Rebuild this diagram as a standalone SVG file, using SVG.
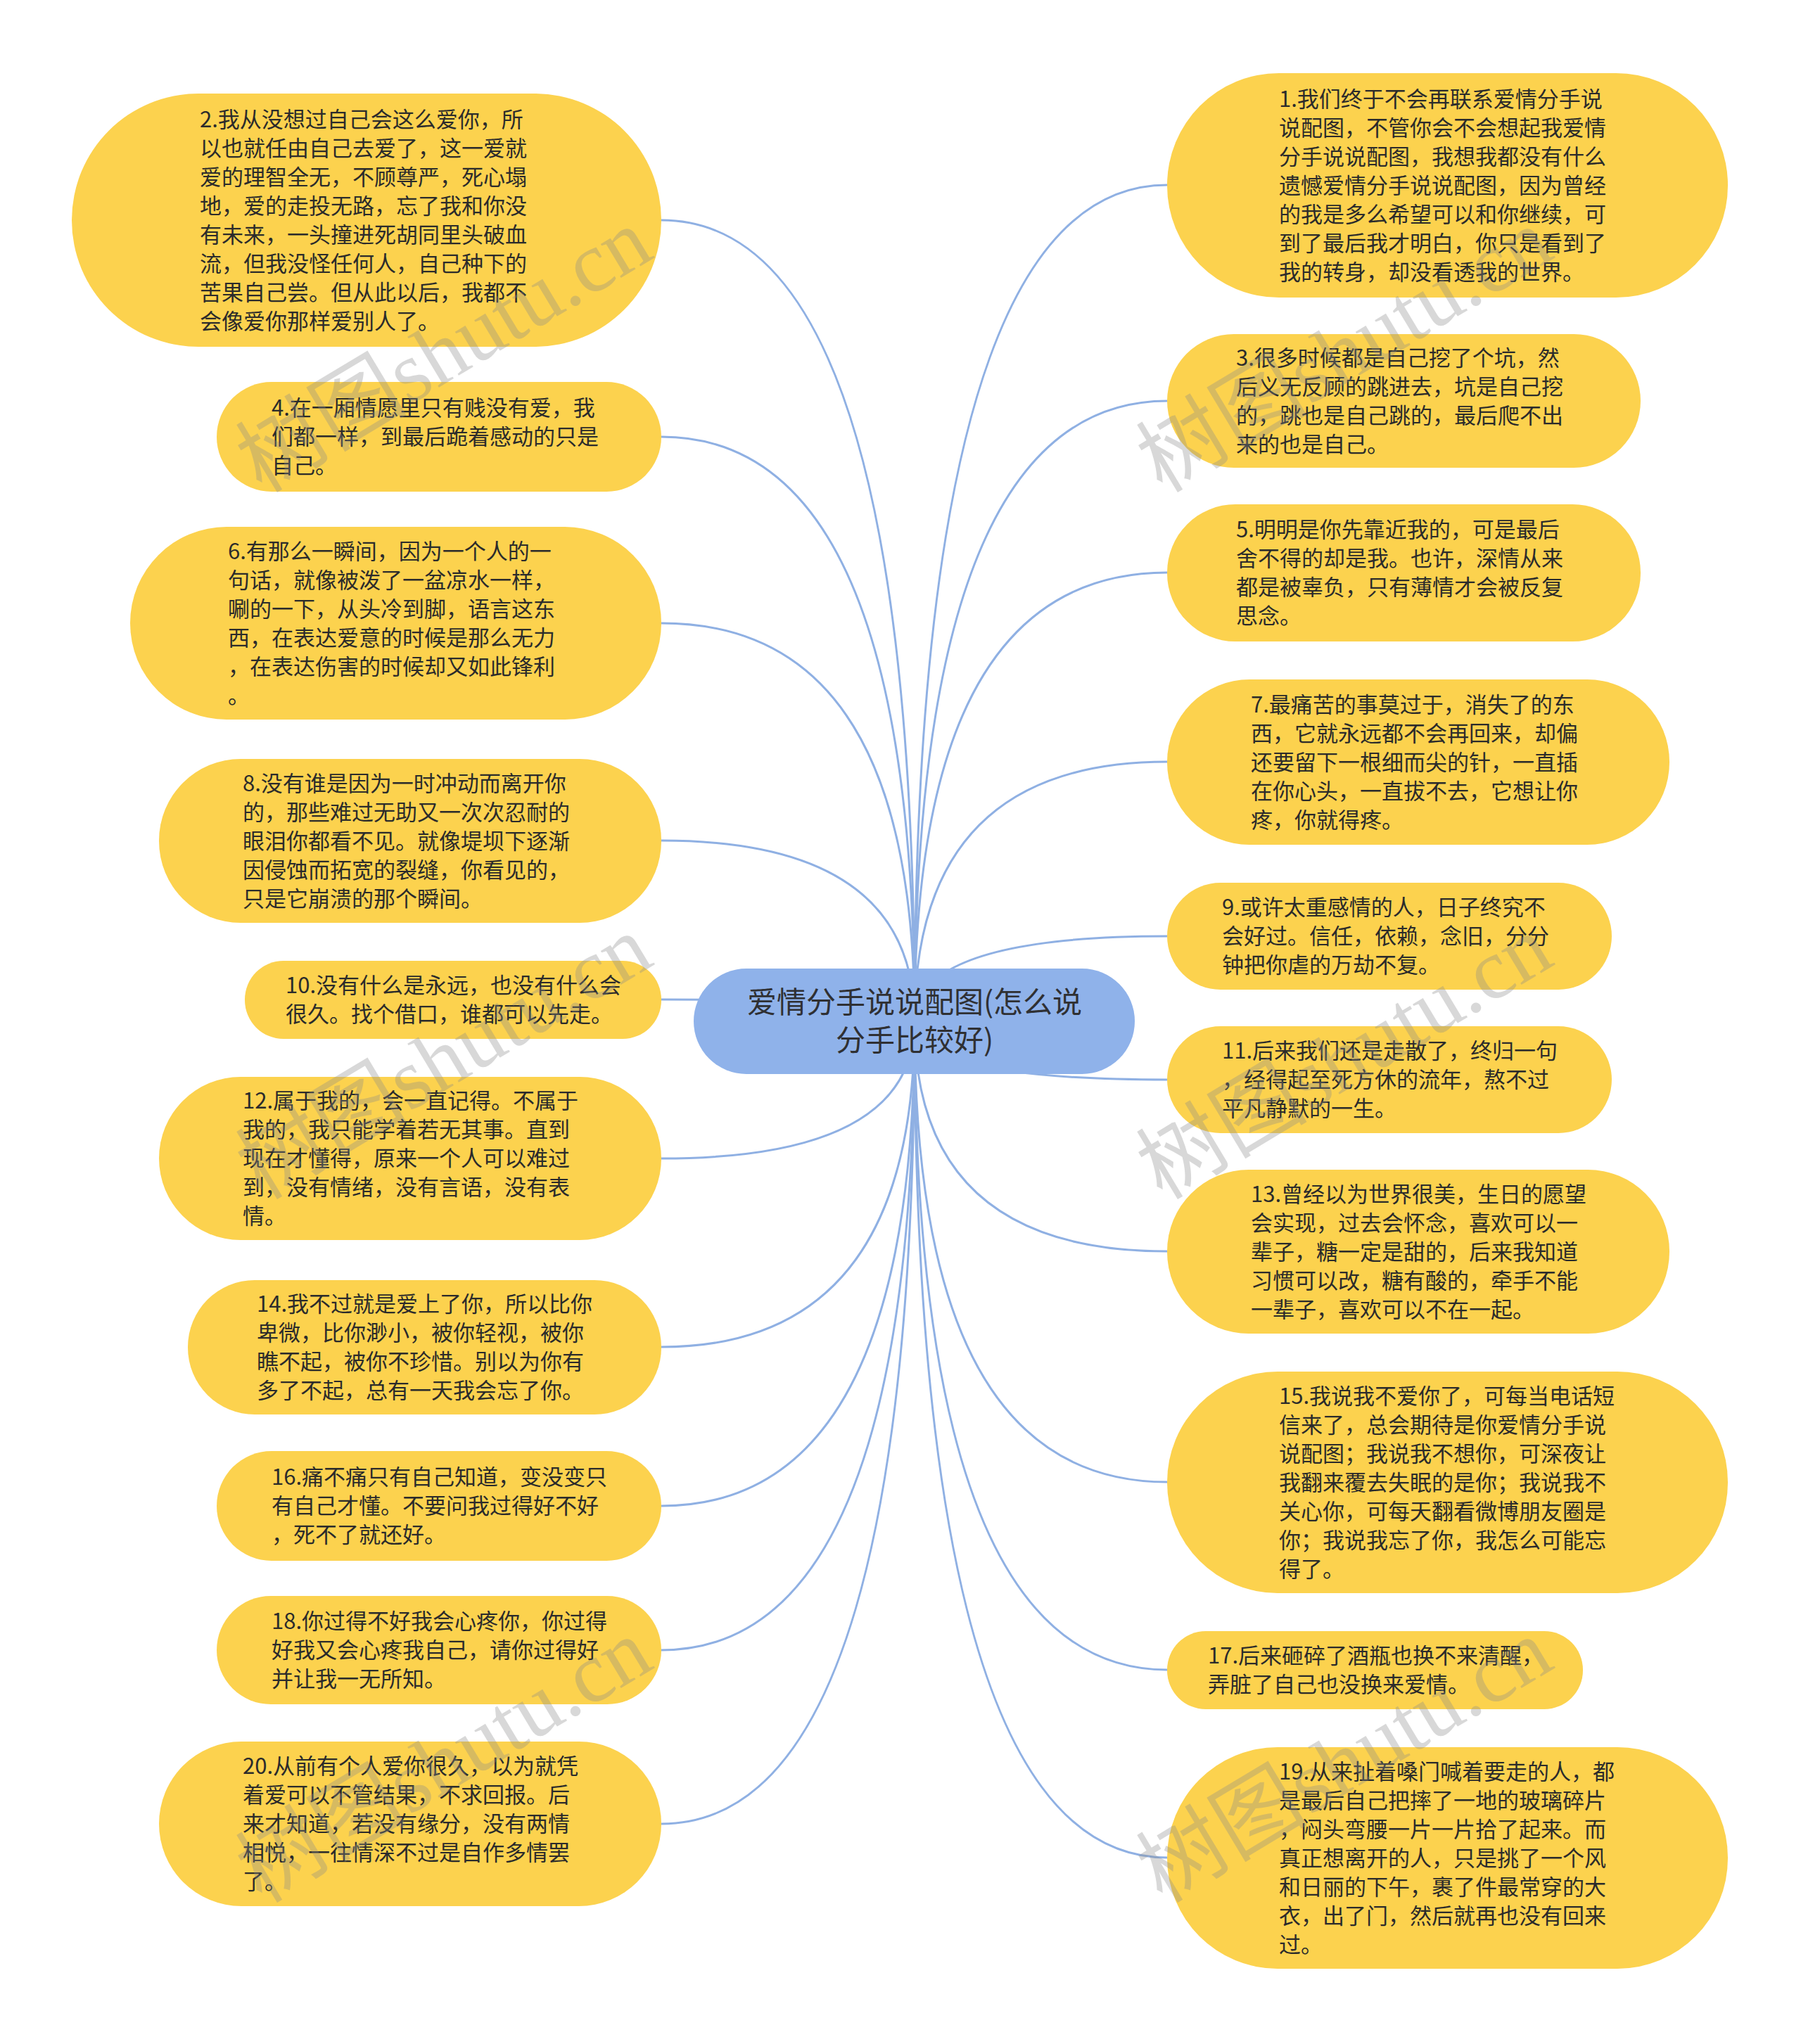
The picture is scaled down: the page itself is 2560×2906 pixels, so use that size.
<svg xmlns="http://www.w3.org/2000/svg" width="2560" height="2906" viewBox="0 0 2560 2906">
<style>
.leaf{fill:#fcd24e;}
.root{fill:#8fb2ea;}
.lt{font-family:"Noto Sans CJK SC","Noto Sans",sans-serif;font-size:31px;fill:#2b2b2b;}
.rt{font-family:"Noto Sans CJK SC","Noto Sans",sans-serif;font-size:42px;fill:#2f3033;text-anchor:middle;}
.ln{fill:none;stroke:#8fb0e3;stroke-width:3;}
.wm{font-family:"Liberation Serif","Noto Sans CJK SC",serif;font-size:122px;fill:#8a8a8a;opacity:0.33;}
</style>
<rect width="2560" height="2906" fill="#ffffff"/>
<g id="connectors">
<path class="ln" d="M940 313 Q1300 313 1300 1452"/>
<path class="ln" d="M940 621 Q1300 621 1300 1452"/>
<path class="ln" d="M940 886 Q1300 886 1300 1452"/>
<path class="ln" d="M940 1195 Q1300 1195 1300 1452"/>
<path class="ln" d="M940 1421 Q1300 1421 1300 1452"/>
<path class="ln" d="M940 1647 Q1300 1647 1300 1452"/>
<path class="ln" d="M940 1915 Q1300 1915 1300 1452"/>
<path class="ln" d="M940 2141 Q1300 2141 1300 1452"/>
<path class="ln" d="M940 2346 Q1300 2346 1300 1452"/>
<path class="ln" d="M940 2593 Q1300 2593 1300 1452"/>
<path class="ln" d="M1659 263 Q1300 263 1300 1452"/>
<path class="ln" d="M1659 570 Q1300 570 1300 1452"/>
<path class="ln" d="M1659 814 Q1300 814 1300 1452"/>
<path class="ln" d="M1659 1083 Q1300 1083 1300 1452"/>
<path class="ln" d="M1659 1331 Q1300 1331 1300 1452"/>
<path class="ln" d="M1659 1535 Q1300 1535 1300 1452"/>
<path class="ln" d="M1659 1779 Q1300 1779 1300 1452"/>
<path class="ln" d="M1659 2107 Q1300 2107 1300 1452"/>
<path class="ln" d="M1659 2374 Q1300 2374 1300 1452"/>
<path class="ln" d="M1659 2641 Q1300 2641 1300 1452"/>
</g>
<g id="root">
<rect class="root" x="986" y="1377" width="627" height="150" rx="75" ry="75"/>
<text class="rt" x="1300" y="1440">爱情分手说说配图(怎么说<tspan x="1300" dy="54">分手比较好)</tspan></text>
</g>
<g id="n2">
<rect class="leaf" x="102" y="133" width="838" height="360" rx="180" ry="180"/>
<text class="lt" x="284" y="180.5">2.我从没想过自己会这么爱你，所<tspan x="284" dy="41">以也就任由自己去爱了，这一爱就</tspan><tspan x="284" dy="41">爱的理智全无，不顾尊严，死心塌</tspan><tspan x="284" dy="41">地，爱的走投无路，忘了我和你没</tspan><tspan x="284" dy="41">有未来，一头撞进死胡同里头破血</tspan><tspan x="284" dy="41">流，但我没怪任何人，自己种下的</tspan><tspan x="284" dy="41">苦果自己尝。但从此以后，我都不</tspan><tspan x="284" dy="41">会像爱你那样爱别人了。</tspan></text>
</g>
<g id="n4">
<rect class="leaf" x="308" y="543" width="632" height="156" rx="78" ry="78"/>
<text class="lt" x="386" y="591">4.在一厢情愿里只有贱没有爱，我<tspan x="386" dy="41">们都一样，到最后跪着感动的只是</tspan><tspan x="386" dy="41">自己。</tspan></text>
</g>
<g id="n6">
<rect class="leaf" x="185" y="749" width="755" height="274" rx="137" ry="137"/>
<text class="lt" x="324" y="794.5">6.有那么一瞬间，因为一个人的一<tspan x="324" dy="41">句话，就像被泼了一盆凉水一样，</tspan><tspan x="324" dy="41">唰的一下，从头冷到脚，语言这东</tspan><tspan x="324" dy="41">西，在表达爱意的时候是那么无力</tspan><tspan x="324" dy="41">，在表达伤害的时候却又如此锋利</tspan><tspan x="324" dy="41">。</tspan></text>
</g>
<g id="n8">
<rect class="leaf" x="226" y="1079" width="714" height="233" rx="116" ry="116"/>
<text class="lt" x="345" y="1124.5">8.没有谁是因为一时冲动而离开你<tspan x="345" dy="41">的，那些难过无助又一次次忍耐的</tspan><tspan x="345" dy="41">眼泪你都看不见。就像堤坝下逐渐</tspan><tspan x="345" dy="41">因侵蚀而拓宽的裂缝，你看见的，</tspan><tspan x="345" dy="41">只是它崩溃的那个瞬间。</tspan></text>
</g>
<g id="n10">
<rect class="leaf" x="348" y="1366" width="592" height="111" rx="55" ry="55"/>
<text class="lt" x="406" y="1412">10.没有什么是永远，也没有什么会<tspan x="406" dy="41">很久。找个借口，谁都可以先走。</tspan></text>
</g>
<g id="n12">
<rect class="leaf" x="226" y="1531" width="714" height="232" rx="116" ry="116"/>
<text class="lt" x="345" y="1576">12.属于我的，会一直记得。不属于<tspan x="345" dy="41">我的，我只能学着若无其事。直到</tspan><tspan x="345" dy="41">现在才懂得，原来一个人可以难过</tspan><tspan x="345" dy="41">到，没有情绪，没有言语，没有表</tspan><tspan x="345" dy="41">情。</tspan></text>
</g>
<g id="n14">
<rect class="leaf" x="267" y="1820" width="673" height="191" rx="95" ry="95"/>
<text class="lt" x="365" y="1865">14.我不过就是爱上了你，所以比你<tspan x="365" dy="41">卑微，比你渺小，被你轻视，被你</tspan><tspan x="365" dy="41">瞧不起，被你不珍惜。别以为你有</tspan><tspan x="365" dy="41">多了不起，总有一天我会忘了你。</tspan></text>
</g>
<g id="n16">
<rect class="leaf" x="308" y="2063" width="632" height="156" rx="78" ry="78"/>
<text class="lt" x="386" y="2111">16.痛不痛只有自己知道，变没变只<tspan x="386" dy="41">有自己才懂。不要问我过得好不好</tspan><tspan x="386" dy="41">，死不了就还好。</tspan></text>
</g>
<g id="n18">
<rect class="leaf" x="308" y="2269" width="632" height="154" rx="77" ry="77"/>
<text class="lt" x="386" y="2316">18.你过得不好我会心疼你，你过得<tspan x="386" dy="41">好我又会心疼我自己，请你过得好</tspan><tspan x="386" dy="41">并让我一无所知。</tspan></text>
</g>
<g id="n20">
<rect class="leaf" x="226" y="2476" width="714" height="234" rx="117" ry="117"/>
<text class="lt" x="345" y="2522">20.从前有个人爱你很久，以为就凭<tspan x="345" dy="41">着爱可以不管结果，不求回报。后</tspan><tspan x="345" dy="41">来才知道，若没有缘分，没有两情</tspan><tspan x="345" dy="41">相悦，一往情深不过是自作多情罢</tspan><tspan x="345" dy="41">了。</tspan></text>
</g>
<g id="n1">
<rect class="leaf" x="1659" y="104" width="797" height="319" rx="159" ry="159"/>
<text class="lt" x="1818" y="151.5">1.我们终于不会再联系爱情分手说<tspan x="1818" dy="41">说配图，不管你会不会想起我爱情</tspan><tspan x="1818" dy="41">分手说说配图，我想我都没有什么</tspan><tspan x="1818" dy="41">遗憾爱情分手说说配图，因为曾经</tspan><tspan x="1818" dy="41">的我是多么希望可以和你继续，可</tspan><tspan x="1818" dy="41">到了最后我才明白，你只是看到了</tspan><tspan x="1818" dy="41">我的转身，却没看透我的世界。</tspan></text>
</g>
<g id="n3">
<rect class="leaf" x="1659" y="475" width="673" height="190" rx="95" ry="95"/>
<text class="lt" x="1757" y="519.5">3.很多时候都是自己挖了个坑，然<tspan x="1757" dy="41">后义无反顾的跳进去，坑是自己挖</tspan><tspan x="1757" dy="41">的，跳也是自己跳的，最后爬不出</tspan><tspan x="1757" dy="41">来的也是自己。</tspan></text>
</g>
<g id="n5">
<rect class="leaf" x="1659" y="717" width="673" height="195" rx="97" ry="97"/>
<text class="lt" x="1757" y="764">5.明明是你先靠近我的，可是最后<tspan x="1757" dy="41">舍不得的却是我。也许，深情从来</tspan><tspan x="1757" dy="41">都是被辜负，只有薄情才会被反复</tspan><tspan x="1757" dy="41">思念。</tspan></text>
</g>
<g id="n7">
<rect class="leaf" x="1659" y="966" width="714" height="235" rx="117" ry="117"/>
<text class="lt" x="1778" y="1012.5">7.最痛苦的事莫过于，消失了的东<tspan x="1778" dy="41">西，它就永远都不会再回来，却偏</tspan><tspan x="1778" dy="41">还要留下一根细而尖的针，一直插</tspan><tspan x="1778" dy="41">在你心头，一直拔不去，它想让你</tspan><tspan x="1778" dy="41">疼，你就得疼。</tspan></text>
</g>
<g id="n9">
<rect class="leaf" x="1659" y="1255" width="632" height="152" rx="76" ry="76"/>
<text class="lt" x="1737" y="1301">9.或许太重感情的人，日子终究不<tspan x="1737" dy="41">会好过。信任，依赖，念旧，分分</tspan><tspan x="1737" dy="41">钟把你虐的万劫不复。</tspan></text>
</g>
<g id="n11">
<rect class="leaf" x="1659" y="1459" width="632" height="152" rx="76" ry="76"/>
<text class="lt" x="1737" y="1505">11.后来我们还是走散了，终归一句<tspan x="1737" dy="41">，经得起至死方休的流年，熬不过</tspan><tspan x="1737" dy="41">平凡静默的一生。</tspan></text>
</g>
<g id="n13">
<rect class="leaf" x="1659" y="1663" width="714" height="233" rx="116" ry="116"/>
<text class="lt" x="1778" y="1708.5">13.曾经以为世界很美，生日的愿望<tspan x="1778" dy="41">会实现，过去会怀念，喜欢可以一</tspan><tspan x="1778" dy="41">辈子，糖一定是甜的，后来我知道</tspan><tspan x="1778" dy="41">习惯可以改，糖有酸的，牵手不能</tspan><tspan x="1778" dy="41">一辈子，喜欢可以不在一起。</tspan></text>
</g>
<g id="n15">
<rect class="leaf" x="1659" y="1950" width="797" height="315" rx="157" ry="157"/>
<text class="lt" x="1818" y="1995.5">15.我说我不爱你了，可每当电话短<tspan x="1818" dy="41">信来了，总会期待是你爱情分手说</tspan><tspan x="1818" dy="41">说配图；我说我不想你，可深夜让</tspan><tspan x="1818" dy="41">我翻来覆去失眠的是你；我说我不</tspan><tspan x="1818" dy="41">关心你，可每天翻看微博朋友圈是</tspan><tspan x="1818" dy="41">你；我说我忘了你，我怎么可能忘</tspan><tspan x="1818" dy="41">得了。</tspan></text>
</g>
<g id="n17">
<rect class="leaf" x="1659" y="2319" width="591" height="111" rx="55" ry="55"/>
<text class="lt" x="1717" y="2365">17.后来砸碎了酒瓶也换不来清醒，<tspan x="1717" dy="41">弄脏了自己也没换来爱情。</tspan></text>
</g>
<g id="n19">
<rect class="leaf" x="1659" y="2484" width="797" height="315" rx="157" ry="157"/>
<text class="lt" x="1818" y="2529.5">19.从来扯着嗓门喊着要走的人，都<tspan x="1818" dy="41">是最后自己把摔了一地的玻璃碎片</tspan><tspan x="1818" dy="41">，闷头弯腰一片一片拾了起来。而</tspan><tspan x="1818" dy="41">真正想离开的人，只是挑了一个风</tspan><tspan x="1818" dy="41">和日丽的下午，裹了件最常穿的大</tspan><tspan x="1818" dy="41">衣，出了门，然后就再也没有回来</tspan><tspan x="1818" dy="41">过。</tspan></text>
</g>
<g id="watermark">
<text class="wm" transform="translate(372 702) rotate(-31)">树图shutu.cn</text>
<text class="wm" transform="translate(1652 702) rotate(-31)">树图shutu.cn</text>
<text class="wm" transform="translate(372 1707) rotate(-31)">树图shutu.cn</text>
<text class="wm" transform="translate(1652 1707) rotate(-31)">树图shutu.cn</text>
<text class="wm" transform="translate(372 2707) rotate(-31)">树图shutu.cn</text>
<text class="wm" transform="translate(1652 2707) rotate(-31)">树图shutu.cn</text>
</g>
</svg>
